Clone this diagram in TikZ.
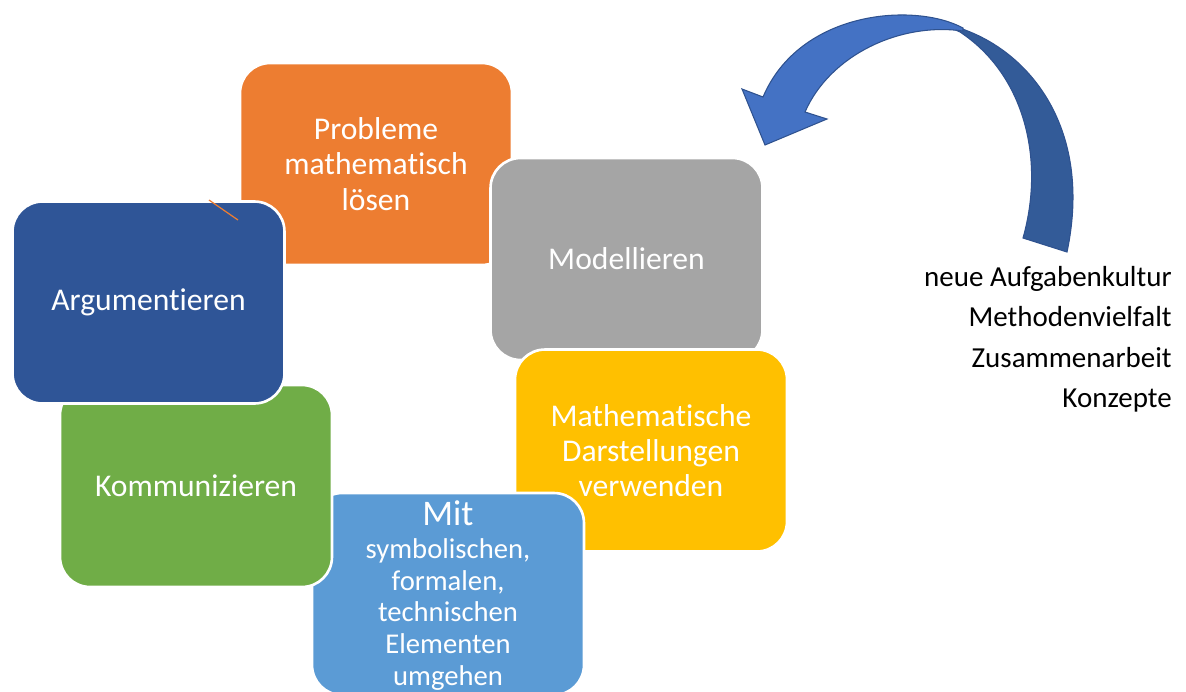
\documentclass[tikz,border=0pt]{standalone}
\usepackage{fontspec}
\setmainfont{Carlito}[Ligatures={NoCommon,NoContextual,NoRequired},Contextuals=NoAlternate]
\definecolor{probOrange}{HTML}{ED7D31}
\definecolor{modGray}{HTML}{A5A5A5}
\definecolor{darstYellow}{HTML}{FFC000}
\definecolor{symBlue}{HTML}{5B9BD5}
\definecolor{kommGreen}{HTML}{70AD47}
\definecolor{argBlue}{HTML}{2F5597}
\definecolor{arrowLight}{HTML}{4472C4}
\definecolor{arrowDark}{HTML}{335B98}
\definecolor{arrowEdge}{HTML}{2F528F}
\begin{document}
\begin{tikzpicture}[
  x=0.02cm, y=-0.02cm,
  box/.style={draw=white, line width=1.5pt, rounded corners=0.6cm,
    minimum width=5.44cm, minimum height=4.04cm, inner sep=0pt,
    text=white, align=center, font=\fontsize{18}{20}\selectfont}
]
\useasboundingbox (0,0) rectangle (1186,691);
\clip (0,0) rectangle (1186,691);
% the cycle of boxes, each one lying over the one before
\node[box, fill=probOrange] (probleme) at (376,164) {Probleme\\mathematisch\\lösen};
\node[box, fill=modGray] (modell) at (626.5,259) {Modellieren};
\node[box, fill=darstYellow] (darst) at (651,450.5) {Mathematische\\Darstellungen\\verwenden};
\node[box, fill=symBlue] (symbol) at (448,594) {};
\node[anchor=north, inner sep=0pt, text=white, align=center,
  font=\fontsize{16.3}{18}\selectfont] (symtext) at (448,500)
  {{\fontsize{20.5}{22}\selectfont Mit}\\[1pt]symbolischen,\\formalen,\\technischen\\Elementen\\umgehen};
\node[box, fill=kommGreen] (kommu) at (196,486) {Kommunizieren};
\node[box, fill=argBlue] (argu) at (148.5,302.5) {Argumentieren};
\coordinate (strayA) at (209,200);
\coordinate (strayB) at (238,220);
\draw[probOrange, line width=0.7pt] (strayA) -- (strayB);
% curved arrow: back part darker, front part lighter
\filldraw[fill=arrowDark, draw=arrowEdge, line width=0.6pt]
  (1023,238) .. controls (1045,160) and (1025,75) .. (960,32)
  -- (940,23) .. controls (1020,38) and (1095,120) .. (1067,252) -- cycle;
\filldraw[fill=arrowLight, draw=arrowEdge, line width=0.6pt]
  (963,28) .. controls (915,2) and (800,10) .. (763,97)
  -- (742,89) -- (765,145) -- (827,119) -- (805,112)
  .. controls (830,55) and (900,22) .. (963,31) -- cycle;
\node[anchor=north east, inner sep=0pt, align=right,
  font=\fontsize{16.5}{23}\selectfont] (kultur) at (1172,266)
  {neue Aufgabenkultur\\Methodenvielfalt\\Zusammenarbeit\\Konzepte};
\end{tikzpicture}
\end{document}
